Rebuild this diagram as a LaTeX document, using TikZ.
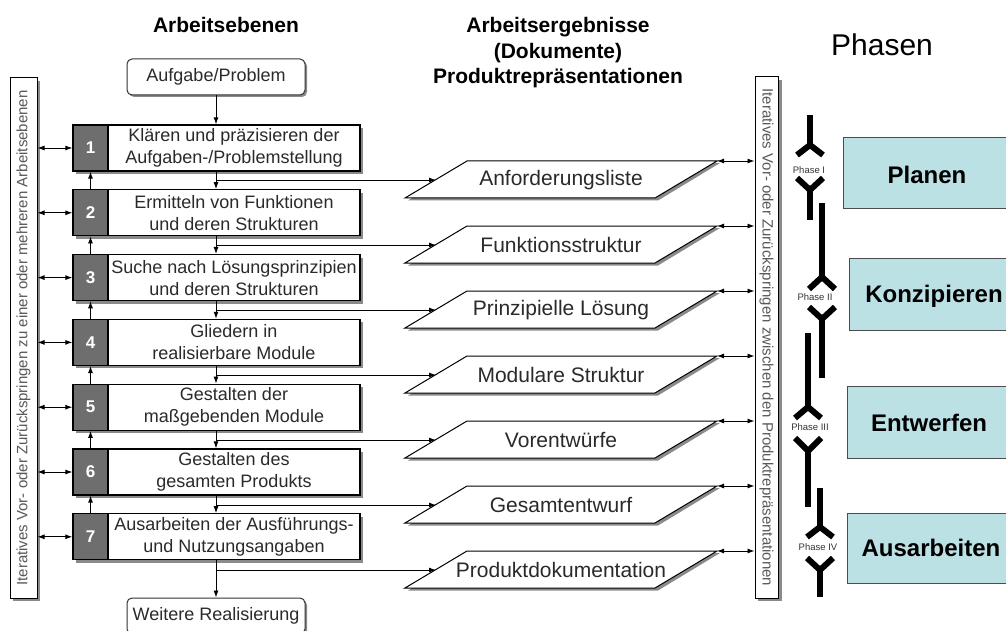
\documentclass[tikz,border=0pt]{standalone}
\usepackage{fontspec}
\setmainfont{Liberation Sans}
\usetikzlibrary{arrows.meta,calc}
\definecolor{numgray}{HTML}{6E6E6E}
\definecolor{phcyan}{HTML}{BCE1E5}
\definecolor{txt}{HTML}{2A2A2A}
\definecolor{shad}{HTML}{8A8A8A}
\newcommand\pfs[2]{\fontsize{#1}{#2}\selectfont}
\begin{document}
\begin{tikzpicture}[x=1pt,y=-1pt,
  titletext/.style={font=\pfs{21}{25.5}\bfseries, align=center, inner sep=0pt},
  stepbox/.style={draw=black, line width=1.3pt, fill=white, inner sep=0pt, align=center,
    minimum width=252, minimum height=46, font=\pfs{18}{22}, text=txt},
  numbox/.style={draw=black, line width=1.3pt, fill=numgray, inner sep=0pt,
    minimum width=35, minimum height=46, font=\pfs{17}{20}\bfseries, text=white},
  endbox/.style={draw=black!80, line width=1pt, fill=white, rounded corners=5pt, inner sep=0pt,
    minimum width=178, minimum height=36, font=\pfs{18}{22}, text=txt},
  sidebox/.style={draw=black, line width=1pt, fill=white, inner sep=0pt},
  sidetext/.style={font=\pfs{15}{18}, text=black!65, inner sep=0pt},
  partext/.style={font=\pfs{21}{25}, text=txt, inner sep=0pt},
  conn/.style={line width=0.9pt, -{Latex[length=7pt,width=5pt]}},
  dconn/.style={line width=0.9pt, {Latex[length=7pt,width=5pt]}-{Latex[length=7pt,width=5pt]}},
  phline/.style={line width=6pt, black},
  phlabel/.style={font=\pfs{9.5}{11}, text=black!80, inner sep=0pt},
  phbox/.style={draw=black!70, line width=1pt, fill=phcyan, inner sep=0pt},
  phtext/.style={font=\pfs{24}{28}\bfseries, inner sep=0pt}
]
\useasboundingbox (0,0) rectangle (1006,631);
\clip (0,0) rectangle (1006,631);

% titles
\node[titletext] (t1) at (226,25) {Arbeitsebenen};
\node[titletext] (t2) at (558,53) {Arbeitsergebnisse\\(Dokumente)\\Produktrepräsentationen};
\node[font=\pfs{30}{34}, inner sep=0pt] (t3) at (882,45) {Phasen};

% side boxes
\fill[shad] (13,81) rectangle (40,601);
\node[sidebox, minimum width=27, minimum height=520] (lbox) at (23.5,338) {};
\node[sidetext, rotate=90] (ltext) at (lbox.center) {Iteratives Vor- oder Zurückspringen zu einer oder mehreren Arbeitsebenen};
\fill[shad] (758,80) rectangle (782,601);
\node[sidebox, minimum width=23, minimum height=521] (rbox) at (766.5,337.5) {};
\node[sidetext, rotate=-90] (rtext) at (rbox.center) {Iteratives Vor- oder Zurückspringen zwischen den Produktrepräsentationen};

% start / end boxes
\fill[shad, rounded corners=5pt] (129,61) rectangle (307,97);
\node[endbox] (aufgabe) at (216,77) {Aufgabe/Problem};
\fill[shad, rounded corners=5pt] (129,600) rectangle (307,636);
\node[endbox] (weitere) at (216,616) {Weitere Realisierung};

% steps
\foreach \i/\txt in {1/{Klären und präzisieren der\\Aufgaben-/Problemstellung},
                     2/{Ermitteln von Funktionen\\und deren Strukturen},
                     3/{Suche nach Lösungsprinzipien\\und deren Strukturen},
                     4/{Gliedern in\\realisierbare Module},
                     5/{Gestalten der\\maßgebenden Module},
                     6/{Gestalten des\\gesamten Produkts},
                     7/{Ausarbeiten der Ausführungs-\\und Nutzungsangaben}}{
  \pgfmathsetmacro\yc{148+64.8*(\i-1)}
  \fill[shad] (76,\yc-20) rectangle (363,\yc+26);
  \node[numbox] (n\i) at (90.5,\yc) {\i};
  \node[stepbox] (s\i) at (234,\yc) {\txt};
  \draw[dconn] (lbox.east |- n\i.west) -- (n\i.west);
}

% documents
\foreach \i/\txt in {1/Anforderungsliste, 2/Funktionsstruktur, 3/Prinzipielle Lösung,
                     4/Modulare Struktur, 5/Vorentwürfe, 6/Gesamtentwurf, 7/Produktdokumentation}{
  \pgfmathsetmacro\ptop{161+65*(\i-1)}
  \fill[shad] (470,\ptop+2) -- (720,\ptop+2) -- (658,\ptop+39.5) -- (408,\ptop+39.5) -- cycle;
  \draw[line width=1pt, fill=white] (467,\ptop) -- (717,\ptop) -- (655,\ptop+37) -- (405,\ptop+37) -- cycle;
  \node[partext] (p\i) at (561,\ptop+19) {\txt};
  \coordinate (pl\i) at (436,\ptop+19);
  \coordinate (pr\i) at (717,\ptop);
  \coordinate (j\i) at (216,\ptop+19);
  \draw[dconn] (pr\i) -- (pr\i -| rbox.west);
}

% vertical flow
\draw[conn] (aufgabe.south) -- (aufgabe.south |- s1.north);
\foreach \i [evaluate=\i as \k using int(\i+1)] in {1,...,6}{
  \draw[line width=0.9pt] (aufgabe.south |- s\i.south) -- (j\i);
  \draw[conn] (j\i) -- (aufgabe.south |- s\k.north);
  \draw[conn] (n\k.north) -- (n\i.south);
  \draw[conn] (j\i) -- (pl\i);
}
\draw[line width=0.9pt] (aufgabe.south |- s7.south) -- (j7);
\draw[conn] (j7) -- (weitere.north);
\draw[conn] (j7) -- (pl7);

% phase boxes
\node[phbox, anchor=north west, minimum width=170, minimum height=71] (ph1) at (843,137) {};
\node[phtext] (pt1) at (927,175) {Planen};
\node[phbox, anchor=north west, minimum width=170, minimum height=72] (ph2) at (849,258) {};
\node[phtext] (pt2) at (934,296) {Konzipieren};
\node[phbox, anchor=north west, minimum width=170, minimum height=72] (ph3) at (847,386) {};
\node[phtext] (pt3) at (929,423) {Entwerfen};
\node[phbox, anchor=north west, minimum width=170, minimum height=70] (ph4) at (847,513) {};
\node[phtext] (pt4) at (931,548) {Ausarbeiten};

% phase symbols
% Phase I
\draw[phline] (810,115) -- (810,145);
\draw[phline] (797,155) -- (810,145) -- (823,155);
\node[phlabel] (lab1) at (809,170) {Phase I};
\draw[phline] (797,178) -- (810,190) -- (823,178);
\draw[phline] (810,190) -- (810,220);
% Phase II
\draw[phline] (822,203) -- (822,277);
\draw[phline] (809,289) -- (822,277) -- (835,289);
\node[phlabel] (lab2) at (815,297) {Phase II};
\draw[phline] (809,307) -- (822,319) -- (835,307);
\draw[phline] (822,319) -- (822,378);
% Phase III
\draw[phline] (808,333) -- (808,407);
\draw[phline] (795,418) -- (808,407) -- (821,418);
\node[phlabel] (lab3) at (810,427) {Phase III};
\draw[phline] (795,438) -- (808,451) -- (821,438);
\draw[phline] (808,451) -- (808,507);
% Phase IV
\draw[phline] (820,488) -- (820,527);
\draw[phline] (807,537) -- (820,527) -- (833,537);
\node[phlabel] (lab4) at (818,547) {Phase IV};
\draw[phline] (807,558) -- (820,570) -- (833,558);
\draw[phline] (820,570) -- (820,597);
\end{tikzpicture}
\end{document}
